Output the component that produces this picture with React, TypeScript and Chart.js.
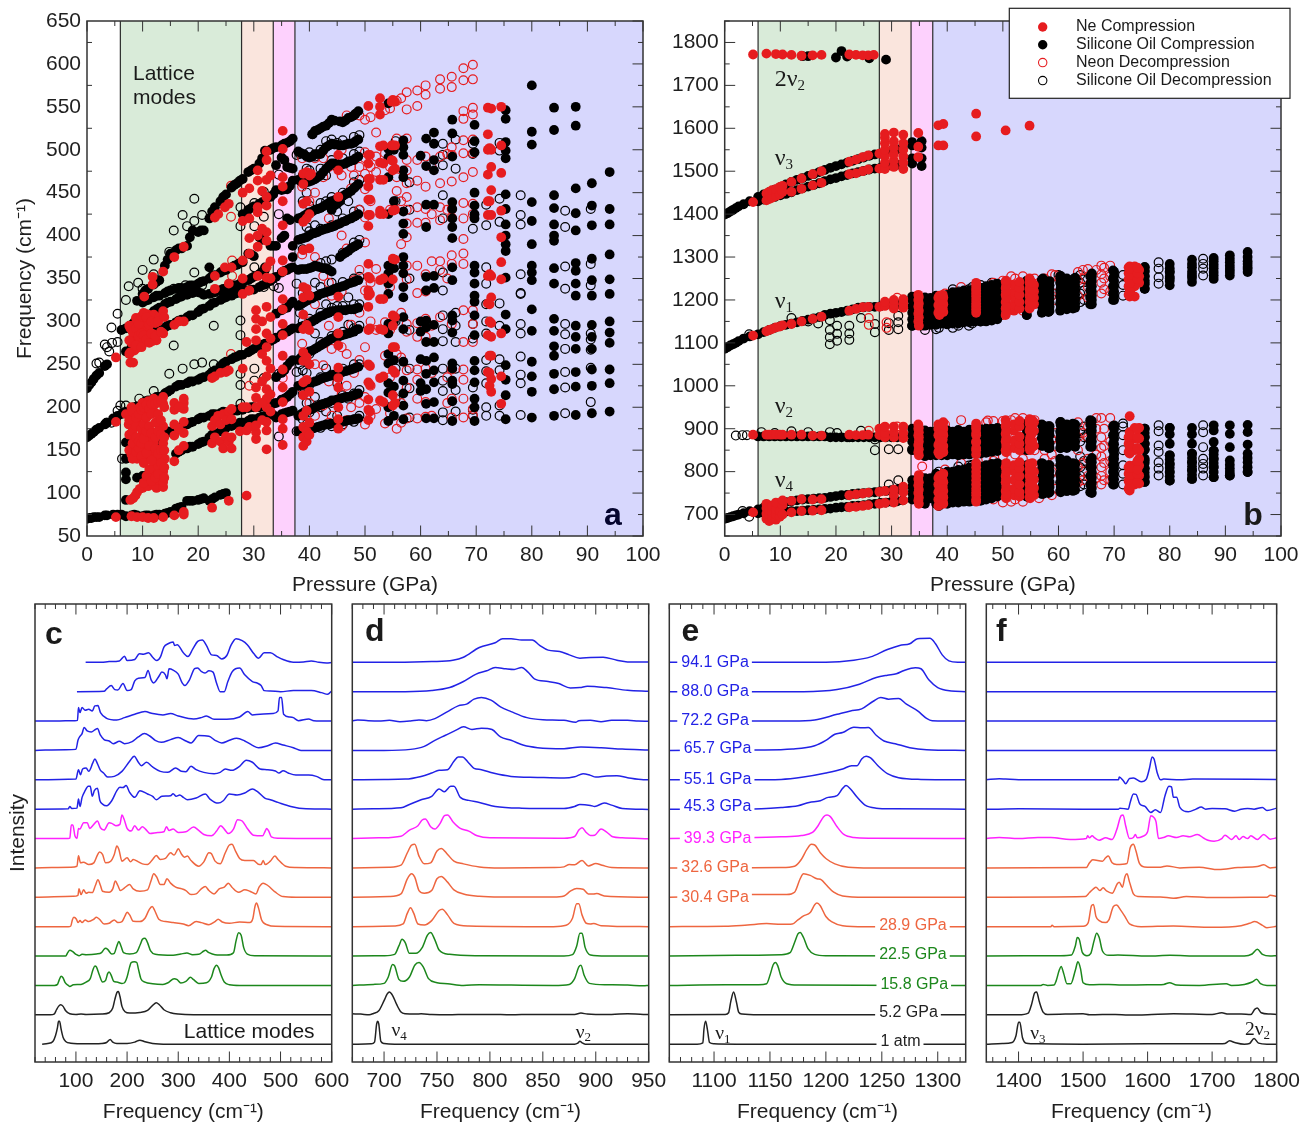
import React, { useEffect, useRef } from "react";
import { Chart, registerables } from "chart.js";

Chart.register(...registerables);

// ---------- Panel a : columns are [pressure, frequency, frequency, ...] ----------
const neCompA: number[][] = [
  [5.2, 72, 183, 258], [7, 192], [7.5, 180], [7.8, 92, 252, 264, 292], [8, 73, 145, 185, 200, 275], [8.3, 94, 252, 282], [8.5, 150, 160, 190, 266, 296],
  [8.7, 97, 276], [9, 72, 101, 140, 155, 183, 195, 269, 286, 300], [9.5, 105, 145, 165, 200, 280, 290, 303], [10, 72, 106, 150, 170, 190, 205, 275], [10.3, 329, 300],
  [10.5, 140, 160, 193, 296], [11, 71, 108, 118, 150, 165, 207, 290, 308], [11.5, 145, 155, 200, 283], [11.8, 120, 277, 343, 352], [12, 71, 110, 125, 150, 160, 170, 195, 210, 280, 285, 308],
  [12.5, 106, 130, 140, 278], [13, 115, 175, 305], [13.7, 72, 107, 113, 125, 158, 178, 204, 212, 286, 312, 358], [14, 140],
  [15.7, 74, 137, 167, 180, 197, 205, 296, 375], [17.4, 75, 78, 155, 170, 183, 198, 205, 210, 300, 387],
  [22.5, 83, 158, 178, 234], [23, 165, 185, 236, 338, 353, 421], [23.6, 190, 425], [24, 160, 180, 240], [24.5, 152, 192], [24.8, 363, 433], [25, 166, 185, 241],
  [25.5, 91, 160, 195, 243, 344, 437], [26, 152, 165, 186, 198, 363], [27.5, 172], [28, 200, 245, 332, 350, 371, 417, 450],
  [28.7, 97, 173, 200, 276], [29.2, 177, 336, 379, 397, 420, 455], [30.4, 163, 171, 179, 200, 211, 223, 278, 291, 303, 313], [30.7, 353, 387, 400, 427, 433, 464, 476],
  [32.3, 151, 173, 183, 200, 210, 221, 236, 254, 270, 286, 317, 351, 363, 394, 404, 435, 445, 465, 488, 498],
  [35.2, 156, 175, 186, 206, 223, 244, 260, 284, 297, 314, 326, 358, 371, 412, 440, 457, 468, 501, 522],
  [38.9, 155, 165, 177, 190, 214, 229, 254, 264, 291, 308, 328, 340, 383, 416, 437, 460, 472], [39.5, 160, 172, 196, 232, 258, 296, 338, 420, 440, 474], [40.3, 472],
  [45.2, 175, 186, 200, 223, 234, 246, 272, 286, 305, 329, 445, 476, 494],
  [50.6, 185, 197, 209, 229, 250, 290, 317, 330, 336, 352, 367, 411, 424, 442, 457, 466, 484, 494, 551],
  [52.7, 208, 234, 291, 326, 348, 425, 429, 465, 485, 504, 541, 550, 560],
  [54.8, 488, 505, 556], [55, 202, 214, 243, 270, 295, 307, 349, 373, 429, 476, 487, 505, 558],
  [72.1, 241, 284, 321, 353, 424, 440, 471, 500, 518, 549], [72.7, 218, 233, 260, 282, 298, 328, 353, 424, 453, 480, 500, 548], [74.5, 204, 236, 286, 349, 369, 398, 429, 473, 505, 550],
];
const neCompAExtra: number[][] = [
  [7.6, 150, 168, 185, 262, 278, 295], [8.2, 140, 158, 172, 195, 288], [8.8, 148, 165, 178, 188, 272, 292, 304], [9.3, 152, 160, 192, 283, 297], [9.8, 143, 158, 175, 197, 270, 286, 306],
  [10.2, 112, 135, 163, 180, 200, 284, 310], [10.7, 120, 147, 172, 188, 203, 279, 305], [11.2, 128, 155, 178, 198, 275, 296], [11.6, 114, 138, 170, 192, 204, 286, 300], [12.3, 118, 152, 165, 182, 204, 283, 298],
  [12.8, 122, 146, 172, 192, 206, 300], [13.3, 135, 150, 168, 185, 208, 288], [13.9, 118, 130, 150, 165, 200, 305], [16.5, 150, 175, 200, 300],
  [31.5, 185, 205, 230, 262, 300, 408, 452], [33, 195, 215, 245, 280, 305, 350, 370, 470], [40, 168, 182, 218, 250, 290, 330, 385, 425, 470],
  [50.9, 195, 226, 248, 292, 332, 350, 424, 442, 466, 494], [53.3, 206, 236, 290, 326, 350, 425, 465, 484, 505], [55.4, 205, 240, 270, 305, 372, 430, 478, 505, 556], [72.4, 225, 240, 260, 300, 320, 355, 440, 502],
];
const siliconeCompA: number[][] = [
  [0, 70, 165, 222], [0.4, 71, 167, 226], [0.8, 71, 169, 229], [1.2, 72, 171, 233], [1.7, 72, 174, 237], [2.2, 72, 176, 240], [3.2, 74, 180, 248], [3.6, 74, 182, 250],
  [4.7, 75, 187], [5.5, 75, 190], [6.2, 75, 192, 290],
  [7, 73, 92, 116, 124, 140, 159, 195, 265, 292], [8, 74, 143, 161, 198, 270, 296], [9, 74, 118, 145, 162, 201, 274, 300, 324], [10, 73, 120, 147, 164, 205, 278, 304, 322, 332],
  [11, 74, 122, 165, 208, 283, 308, 325, 338], [12, 74, 123, 167, 210, 287, 312, 328, 343], [13, 75, 133, 168, 212, 290, 316, 330, 348], [14, 76, 170, 216, 293, 320, 333, 365],
  [15, 78, 171, 220, 296, 323, 336, 379], [16, 82, 146, 174, 224, 299, 326, 338, 383], [17, 84, 150, 177, 226, 302, 329, 339, 385], [18, 91, 152, 180, 228, 305, 331, 340, 388],
  [19, 91, 154, 183, 230, 307, 333, 342, 406], [20, 92, 157, 186, 232, 311, 334, 344, 404], [21, 94, 160, 188, 235, 315, 331, 347, 406], [22, 91, 165, 190, 238, 318, 332, 350, 420, 363],
  [23, 95, 169, 192, 243, 322, 334, 354, 433], [24, 98, 172, 193, 248, 325, 336, 357, 440], [25, 100, 176, 194, 253, 328, 338, 360, 448], [26, 178, 195, 256, 330, 340, 363, 456],
  [27, 180, 196, 259, 333, 342, 366, 461], [28, 182, 197, 261, 335, 345, 369, 425, 466], [29, 184, 199, 264, 336, 348, 379, 430, 474], [30, 186, 200, 268, 337, 352, 376, 434, 478],
  [31, 188, 200, 271, 340, 355, 398, 437, 484], [32, 190, 201, 274, 343, 360, 363, 440, 499], [33, 192, 203, 277, 347, 388, 445, 500], [34, 188, 205, 235, 281, 309, 352, 388, 453, 503, 482],
  [35, 192, 209, 240, 285, 313, 357, 397, 453, 491, 505], [36, 194, 212, 248, 288, 316, 360, 420, 454, 480, 508], [37, 196, 218, 255, 292, 323, 363, 375, 388, 464, 513, 478],
  [38, 172, 190, 225, 255, 292, 318, 360, 395, 420, 465, 498], [39, 173, 194, 226, 260, 295, 322, 361, 397, 423, 462, 495], [40, 175, 197, 228, 265, 298, 326, 362, 400, 427, 463, 491],
  [40.6, 518], [41, 176, 200, 230, 268, 302, 329, 365, 403, 430, 466, 495, 522], [42, 178, 203, 233, 272, 306, 332, 363, 406, 432, 470, 495, 525], [43, 180, 205, 235, 276, 309, 334, 362, 408, 436, 478, 503, 528],
  [44, 181, 208, 237, 280, 312, 336, 358, 410, 430, 440, 484, 507, 535], [45, 182, 209, 239, 282, 313, 339, 413, 437, 443, 483, 506], [46, 183, 211, 241, 284, 313, 341, 378, 416, 446, 483, 505, 532],
  [47, 185, 212, 243, 286, 314, 344, 382, 419, 450, 486, 507, 537], [48, 186, 214, 245, 288, 314, 346, 387, 422, 455, 488, 508, 540], [48.8, 187, 216, 247, 291, 316, 348, 390, 425, 460, 492, 512, 545],
  [54.2, 184, 200, 217, 228, 251, 262, 286, 297, 332, 344, 356, 365, 425, 468, 491, 501, 554], [55.2, 190, 224, 255, 300, 362, 440, 500],
  [56.9, 186, 202, 216, 231, 253, 291, 305, 328, 340, 356, 365, 375, 402, 414, 428, 468, 476, 494, 503, 511],
  [60, 219, 228, 256, 288, 300, 493], [61, 187, 204, 221, 239, 254, 276, 293, 301, 336, 352, 410, 436, 481, 513], [62.4, 187, 206, 229, 243, 258, 276, 296, 339, 353, 436, 476, 488, 507, 520],
  [65.7, 184, 207, 227, 231, 245, 251, 287, 301, 307, 348, 363, 397, 410, 420, 431, 439, 492, 519, 535], [69.7, 184, 200, 210, 229, 243, 254, 284, 307, 323, 330, 344, 357, 365, 420, 425, 435, 450, 497, 510, 529],
  [75.3, 186, 214, 232, 249, 291, 308, 351, 382, 390, 400, 413, 431, 448, 490, 499, 509, 536, 546],
  [80, 188, 218, 236, 253, 289, 314, 348, 357, 365, 390, 417, 439, 506, 521, 575],
  [84, 190, 221, 239, 260, 271, 289, 303, 344, 362, 394, 400, 413, 432, 447, 523, 549], [87.9, 191, 224, 241, 268, 282, 295, 330, 344, 359, 368, 406, 426, 455, 528, 550],
  [90.8, 193, 225, 244, 268, 282, 296, 330, 348, 373, 412, 435, 461], [94, 195, 228, 244, 275, 287, 300, 332, 349, 378, 413, 431, 474],
];
const siliconeCompAExtra: number[][] = [
  [8.5, 75, 163, 200, 273, 299], [10.5, 74, 149, 166, 207, 281, 306, 324, 336], [12.5, 75, 158, 168, 212, 289, 314, 330, 346], [14.5, 77, 172, 218, 295, 322, 335, 372], [16.5, 83, 148, 176, 226, 301, 328, 339, 385],
  [18.5, 91, 154, 182, 230, 307, 333, 342, 398], [20.5, 93, 159, 188, 234, 314, 333, 346, 406], [22.5, 93, 168, 192, 241, 321, 333, 353, 428], [24.5, 99, 175, 195, 251, 327, 338, 359, 445], [26.5, 180, 197, 258, 332, 342, 365, 459],
  [27.5, 182, 198, 261, 334, 344, 368, 464], [29.5, 186, 200, 266, 337, 350, 378, 432, 476], [31.5, 189, 201, 273, 342, 358, 395, 439, 490], [33.5, 191, 204, 279, 350, 388, 448, 502], [35.5, 193, 210, 243, 287, 315, 359, 400, 454, 488, 507], [36.5, 195, 215, 252, 290, 320, 362, 418, 458, 479, 510],
  [38.5, 172, 192, 226, 258, 294, 320, 361, 396, 421, 463, 496], [39.5, 174, 195, 227, 262, 296, 324, 361, 398, 425, 462, 492], [40.5, 175, 198, 229, 266, 300, 327, 363, 402, 428, 464, 492, 518], [41.5, 177, 201, 231, 270, 304, 330, 364, 404, 431, 468, 495, 523],
  [42.5, 179, 204, 234, 274, 307, 333, 362, 407, 434, 474, 499, 527], [43.5, 180, 206, 236, 278, 310, 335, 360, 409, 438, 481, 505, 531], [44.5, 181, 208, 238, 281, 312, 338, 411, 435, 441, 484, 506, 534], [45.5, 183, 210, 240, 283, 313, 340, 375, 414, 440, 445, 483, 505, 533],
  [46.5, 184, 212, 242, 285, 313, 342, 380, 417, 448, 484, 506, 534], [47.5, 185, 213, 244, 287, 314, 345, 385, 420, 452, 487, 507, 538], [48.3, 186, 215, 246, 290, 315, 347, 388, 423, 457, 490, 510, 542],
];
const neDecompA: number[][] = [
  [25.9, 262, 422, 458], [26.1, 353, 371], [29.2, 225], [35.2, 234], [38.7, 222, 274, 378, 457, 490], [42.5, 202, 249, 274, 353, 468, 490],
  [40, 205, 300, 440], [44, 190, 268, 330], [46.7, 185, 225, 262, 385, 540], [47.5, 200, 296, 455, 480], [48, 240, 348, 470], [50, 180, 212, 270, 336, 392, 421, 454, 472, 490, 497, 535],
  [52, 198, 290, 361, 474, 492, 520], [53.6, 181, 260, 299, 496, 546], [55.7, 175, 262, 452, 468, 513, 557],
  [57.5, 187, 223, 243, 288, 297, 349, 365, 398, 414, 430, 445, 461, 476, 488, 513, 547, 567],
  [59.4, 187, 210, 232, 244, 282, 298, 333, 365, 415, 433, 464, 488, 551, 569], [60.9, 189, 206, 245, 282, 303, 335, 355, 415, 431, 457, 492, 564, 575],
  [63.5, 305, 360, 370, 418, 433, 461, 492, 571, 582], [65.6, 188, 210, 244, 297, 367, 377, 421, 431, 463, 494, 503, 573, 585],
  [67.7, 188, 210, 232, 244, 276, 313, 367, 379, 396, 420, 438, 468, 496, 511, 536, 545, 581, 595],
  [69.4, 191, 198, 276, 297, 313, 425, 437, 474, 496, 512, 541, 549, 582, 599],
  [41, 190, 250, 320, 375, 450, 490], [43.5, 182, 230, 295, 345, 420, 480], [45.8, 178, 215, 270, 335, 400, 470, 500], [49, 205, 255, 310, 360, 430, 480, 540], [51, 190, 225, 300, 345, 440, 480, 538],
  [54.5, 193, 235, 290, 340, 430, 480, 548], [56.5, 182, 205, 258, 310, 390, 440, 505, 560], [62, 190, 240, 295, 370, 425, 480], [64.8, 205, 235, 350, 430, 495],
];
const siliconeDecompA: number[][] = [
  [1.7, 251], [2.2, 252], [3.2, 273], [3.5, 182], [3.6, 270], [4, 265], [4.4, 182, 293], [4.5, 275], [5.5, 196, 276, 309], [6, 202], [6.3, 140], [7, 202, 325], [7.5, 341], [9.2, 345], [9.4, 210],
  [10, 338, 360], [12, 219, 355, 372], [14.8, 239, 381], [15.6, 272, 338, 406], [17.2, 245, 424], [17.7, 342], [18, 411], [19.3, 250, 357, 417, 443], [20.7, 252, 342, 424], [22.8, 250, 295, 429],
  [27.6, 204, 226, 239, 284, 301, 411, 433], [30.1, 245, 231, 363, 411, 438], [31.8, 234, 340, 422, 451], [33.6, 341], [34.5, 166, 239, 339, 425, 471], [37.7, 172, 241, 344, 494],
  [38.3, 495, 250, 310], [39.5, 180, 205, 240, 330, 410, 450, 478], [41, 212, 286, 345, 412, 466, 492], [43, 195, 245, 320, 370, 440, 470, 510], [45, 190, 228, 285, 318, 428, 480, 508], [47, 210, 296, 328, 440, 486],
  [38.8, 186, 215, 243, 300, 333, 384, 440, 470], [40, 194, 226, 262, 303, 330, 405, 435, 476, 497], [42, 176, 200, 235, 276, 310, 340, 368, 408, 438, 478, 500], [44, 178, 205, 238, 283, 316, 345, 372, 412, 445, 488, 512],
  [46, 180, 214, 245, 288, 318, 346, 380, 420, 450, 490, 511], [48, 183, 216, 250, 292, 320, 350, 392, 428, 462, 495, 515], [49, 190, 220, 250, 295, 320, 352, 395, 430, 465, 498, 517], [55.5, 210, 245, 300, 365, 440, 510], [58, 188, 222, 245, 290, 350, 430, 462],
  [64, 185, 194, 219, 231, 245, 277, 291, 307, 336, 357, 420, 447, 482, 494, 507], [66.3, 195, 220, 245, 276, 295, 310, 478, 512], [69.4, 190, 197, 223, 280, 297, 408, 495, 507],
  [71.8, 190, 200, 228, 242, 255, 286, 300, 320, 344, 363, 412, 436], [74.2, 190, 202, 243, 256, 295, 321, 416, 443, 499, 508], [78, 191, 228, 238, 259, 286, 297, 332, 333, 355, 413, 424, 447],
  [86, 193, 223, 241, 268, 285, 297, 338, 364, 410, 429], [90.6, 206, 246, 267, 279, 286, 342, 367, 431],
];

// ---------- Panel b ----------
const neCompB: number[][] = [
  [5.1, 705, 886, 1117, 1428, 1772], [7.5, 690, 702, 715, 725, 886, 1127, 1432, 1448, 1774], [8, 685, 700, 710, 886, 1130, 1435, 1452], [8.5, 692, 705, 720, 886, 1132, 1438, 1456],
  [9.2, 688, 700, 712, 728, 886, 1136, 1442, 1458, 1773], [9.9, 695, 708, 886, 1138, 1446, 1463], [10.4, 700, 722, 733, 886, 1141, 1452, 1466, 1772], [12, 705, 732, 886, 1144, 1452, 1475, 1771],
  [13.8, 708, 736, 886, 1150, 1459, 1483, 1769], [15.8, 709, 735, 884, 1156, 1467, 1493, 1770], [17.4, 710, 736, 884, 1161, 1473, 1500, 1771],
  [22.4, 717, 745, 886, 1175, 1493, 1522, 1772], [23.6, 718, 747, 885, 1179, 1495, 1527, 1771], [24.8, 720, 749, 885, 1183, 1500, 1533, 1770], [25.8, 722, 751, 886, 1184, 1504, 1537, 1770], [26.8, 1771],
  [27.8, 725, 753, 885, 900, 1184, 1506, 1541], [28.8, 727, 755, 880, 890, 905, 1186, 1196, 1505, 1520, 1535, 1550, 1565, 1578, 1587], [30.4, 728, 745, 758, 880, 892, 905, 1180, 1190, 1200, 1510, 1525, 1540, 1555, 1570, 1590],
  [32.1, 733, 752, 765, 878, 890, 905, 1182, 1192, 1202, 1505, 1520, 1535, 1550, 1565, 1585],
  [34.8, 733, 750, 768, 783, 845, 862, 885, 900, 910, 1150, 1168, 1185, 1200, 1212, 1533, 1557, 1589],
  [38.4, 720, 735, 752, 770, 785, 845, 862, 885, 900, 910, 1170, 1188, 1205, 1560, 1607], [39.3, 725, 740, 755, 775, 795, 845, 860, 885, 900, 915, 1172, 1190, 1206, 1560, 1610],
  [45.2, 730, 745, 760, 780, 800, 820, 850, 870, 890, 905, 1170, 1185, 1200, 1215, 1228, 1240, 1581, 1634],
  [50.5, 740, 755, 775, 790, 810, 850, 870, 888, 905, 920, 1165, 1180, 1195, 1212, 1228, 1243, 1595], [52, 745, 760, 780, 800, 815, 855, 872, 895, 910, 1175, 1190, 1205, 1220, 1235],
  [54.8, 740, 755, 770, 790, 805, 818, 855, 872, 895, 912, 922, 1180, 1195, 1210, 1225, 1240, 1250, 1606], [55.6, 745, 762, 782, 800, 860, 895, 915, 1190, 1205, 1220, 1235],
  [72.8, 756, 770, 787, 800, 814, 842, 856, 873, 892, 929, 1208, 1225, 1240, 1255, 1270, 1278], [73.7, 770, 790, 815, 850, 877, 902, 1208, 1232, 1245, 1262, 1278], [74.5, 772, 791, 814, 830, 850, 877, 902, 1240, 1255, 1270],
];
const neCompBExtra: number[][] = [
  [34.9, 725, 740, 758, 775, 792, 838, 852, 870, 880, 892, 902, 1140, 1160, 1175, 1192, 1207], [38.6, 725, 738, 748, 760, 770, 782, 790, 840, 852, 868, 880, 892, 905, 1165, 1180, 1195, 1210],
  [39.2, 730, 745, 765, 780, 792, 848, 855, 875, 892, 908, 1180, 1198, 1212], [45.2, 735, 752, 770, 790, 810, 840, 855, 868, 885, 900, 912, 1178, 1192, 1208, 1222, 1235],
  [50.6, 738, 748, 765, 782, 800, 820, 845, 860, 878, 895, 912, 1170, 1185, 1205, 1220, 1235, 1245], [53, 742, 752, 770, 790, 808, 822, 850, 865, 882, 905, 918, 1180, 1195, 1212, 1228, 1242],
  [54.9, 738, 748, 762, 780, 798, 810, 850, 865, 880, 900, 918, 1185, 1200, 1218, 1232, 1246], [55.3, 745, 758, 775, 790, 805, 820, 858, 870, 890, 905, 920, 1190, 1208, 1224, 1240],
  [72.6, 760, 778, 795, 810, 846, 865, 880, 1212, 1232, 1248, 1262, 1276], [72.9, 765, 782, 792, 808, 850, 860, 885, 1220, 1240, 1258, 1272], [74.2, 775, 795, 805, 825, 855, 880, 900, 1248, 1262, 1275],
];
const siliconeCompB: number[][] = [
  [0, 690, 1086, 1399], [0.5, 692, 1090, 1402], [1, 694, 1094, 1406], [1.5, 696, 1097, 1410], [2, 698, 1100, 1414], [2.5, 700, 1104, 1418], [3.4, 703, 1110, 1423], [4.5, 708, 1115, 1430],
  [6, 703, 712, 882, 1120, 1430, 1440], [7, 704, 716, 882, 1125, 1434, 1446], [8, 705, 720, 882, 1130, 1437, 1451], [9, 706, 723, 882, 1135, 1440, 1457], [10, 707, 726, 882, 1139, 1444, 1463], [11, 707, 729, 882, 1142, 1447, 1469],
  [12, 708, 731, 882, 1145, 1451, 1475], [13, 708, 733, 882, 1148, 1456, 1480], [14, 709, 735, 882, 1151, 1460, 1484, 1768], [15, 710, 736, 882, 1154, 1464, 1489, 1768], [16, 711, 737, 882, 1157, 1468, 1493], [17, 712, 738, 882, 1160, 1472, 1498],
  [18, 713, 739, 882, 1165, 1477, 1503], [19, 714, 741, 880, 1168, 1481, 1508], [20, 716, 743, 880, 1170, 1484, 1512, 1765], [21, 717, 745, 880, 1172, 1488, 1516, 1780], [22, 718, 746, 880, 1175, 1491, 1520, 1767], [23, 720, 748, 880, 1178, 1495, 1524],
  [24, 721, 749, 880, 1182, 1498, 1528], [25, 722, 750, 880, 1183, 1501, 1532], [26, 724, 751, 880, 1184, 1504, 1536, 1763], [27, 725, 752, 880, 1184, 1506, 1539], [28, 727, 754, 880, 1185, 1508, 1541], [29, 728, 755, 880, 1188, 1511, 1545, 1760], [30, 730, 757, 880, 1190, 1513, 1548],
  [31, 731, 758, 880, 1190, 1515, 1551], [32, 733, 760, 880, 1191, 1518, 1555], [33.7, 735, 750, 765, 780, 850, 870, 885, 900, 1140, 1155, 1170, 1185, 1200, 1208, 1518, 1530, 1560, 1568],
  [35.4, 735, 750, 765, 785, 840, 855, 878, 895, 1140, 1155, 1170, 1185, 1200, 1512, 1530, 1555, 1570], [37, 738, 752, 770, 785, 838, 855, 875, 893, 1142, 1160, 1175, 1190, 1205],
  [39, 735, 750, 770, 790, 838, 858, 878, 895, 1145, 1160, 1175, 1190, 1205], [41, 728, 745, 765, 785, 800, 840, 858, 875, 893, 1145, 1160, 1175, 1190, 1205, 1218], [43, 730, 748, 768, 788, 805, 840, 858, 875, 893, 1148, 1162, 1178, 1192, 1208, 1222],
  [45, 732, 750, 770, 790, 808, 842, 858, 878, 895, 1150, 1165, 1180, 1195, 1210, 1225], [46.5, 735, 752, 772, 792, 810, 845, 860, 878, 897, 1152, 1168, 1182, 1198, 1212, 1228], [47.5, 742, 758, 775, 795, 811, 848, 862, 880, 897, 1155, 1170, 1185, 1200, 1215, 1230],
  [48.7, 745, 760, 780, 798, 812, 850, 865, 882, 898, 1158, 1172, 1188, 1202, 1216, 1232], [54.3, 742, 755, 770, 790, 805, 815, 850, 865, 885, 900, 912, 1165, 1180, 1195, 1212, 1228, 1242],
  [57, 748, 760, 785, 805, 820, 860, 878, 890, 910, 1170, 1186, 1200, 1216, 1232, 1247], [58.2, 750, 770, 795, 815, 855, 875, 895, 906, 1172, 1188, 1204, 1220, 1235],
  [60.3, 755, 775, 795, 815, 830, 855, 875, 893, 915, 1175, 1192, 1208, 1222, 1240, 1255], [61.5, 755, 775, 800, 820, 860, 880, 895, 910, 1178, 1195, 1210, 1228, 1245], [62.6, 755, 775, 795, 820, 860, 880, 893, 912, 1180, 1198, 1214, 1232, 1248],
  [65.7, 752, 770, 790, 810, 825, 858, 872, 895, 910, 920, 1190, 1205, 1222, 1238, 1255], [69.8, 770, 785, 800, 815, 830, 850, 865, 885, 905, 1200, 1215, 1232, 1250, 1269], [75.5, 776, 790, 807, 826, 851, 865, 881, 900, 1226, 1240, 1255, 1268, 1277],
  [80, 779, 799, 818, 838, 865, 887, 902, 1234, 1250, 1267, 1284], [84, 783, 803, 822, 842, 865, 887, 902, 1242, 1258, 1276, 1294], [87.9, 787, 811, 830, 849, 869, 896, 908, 1249, 1265, 1282, 1298],
  [90.8, 791, 807, 826, 857, 888, 908, 1257, 1272, 1288, 1304], [94, 799, 822, 842, 863, 892, 909, 1265, 1277, 1290, 1312],
];
const siliconeCompBExtra: number[][] = [
  [36, 725, 735, 748, 760, 772, 785, 836, 846, 856, 866, 876, 886, 896, 1140, 1148, 1158, 1168, 1178, 1188, 1198, 1206],
  [38, 725, 735, 745, 755, 765, 775, 785, 795, 838, 848, 858, 868, 878, 888, 895, 1142, 1150, 1160, 1170, 1180, 1190, 1200, 1210],
  [40, 725, 735, 745, 755, 767, 778, 790, 800, 838, 848, 858, 868, 878, 888, 896, 1143, 1152, 1162, 1172, 1182, 1192, 1202, 1212],
  [42, 728, 738, 748, 758, 770, 782, 794, 804, 838, 848, 858, 868, 878, 888, 897, 1145, 1155, 1165, 1175, 1185, 1195, 1205, 1218],
  [44, 730, 740, 750, 762, 774, 786, 798, 810, 840, 850, 860, 870, 880, 890, 898, 1148, 1158, 1168, 1178, 1188, 1198, 1210, 1222],
  [46, 732, 742, 752, 765, 777, 790, 802, 812, 842, 852, 862, 872, 882, 892, 899, 1150, 1160, 1170, 1180, 1192, 1204, 1216, 1228],
  [47, 735, 745, 756, 768, 780, 792, 804, 815, 844, 854, 864, 874, 884, 894, 900, 1150, 1162, 1172, 1184, 1196, 1208, 1220, 1232],
  [48, 738, 748, 760, 772, 784, 796, 808, 818, 846, 856, 866, 876, 886, 895, 900, 1152, 1164, 1175, 1187, 1199, 1211, 1223, 1235],
  [49, 742, 752, 764, 776, 788, 800, 810, 820, 848, 858, 868, 878, 888, 896, 902, 1155, 1166, 1178, 1190, 1202, 1214, 1226, 1238],
  [54.3, 742, 752, 762, 772, 782, 792, 802, 812, 856, 866, 880, 890, 900, 910, 1165, 1175, 1185, 1195, 1205, 1215, 1225, 1235, 1245],
  [57.2, 748, 758, 770, 782, 794, 806, 818, 860, 872, 886, 897, 908, 1172, 1182, 1192, 1202, 1212, 1222, 1232, 1242, 1250],
  [58.4, 752, 764, 776, 790, 802, 815, 855, 866, 885, 896, 906, 1174, 1184, 1194, 1204, 1214, 1224, 1234, 1244],
  [60.4, 752, 764, 776, 788, 800, 812, 824, 855, 866, 885, 896, 908, 916, 1178, 1188, 1198, 1208, 1218, 1228, 1238, 1248, 1256],
  [61.5, 755, 767, 779, 791, 803, 815, 826, 855, 866, 885, 895, 908, 1180, 1190, 1200, 1210, 1220, 1230, 1240, 1250],
  [63, 757, 769, 781, 793, 805, 817, 858, 870, 885, 895, 910, 1182, 1192, 1202, 1212, 1222, 1232, 1242, 1252],
  [66, 750, 762, 774, 786, 798, 810, 822, 832, 858, 870, 882, 895, 905, 918, 1190, 1200, 1210, 1220, 1232, 1244, 1254, 1262],
  [70, 770, 782, 794, 806, 818, 830, 840, 852, 864, 876, 888, 900, 908, 1200, 1210, 1220, 1232, 1244, 1256, 1266],
  [75.5, 776, 786, 798, 808, 820, 830, 852, 865, 880, 890, 900, 1226, 1236, 1246, 1256, 1266, 1276],
  [80, 779, 789, 799, 809, 818, 828, 838, 902, 1244, 1254, 1264, 1274], [84, 783, 793, 803, 812, 822, 832, 842, 1252, 1266, 1284], [87.9, 787, 799, 811, 820, 830, 840, 849, 1257, 1274, 1290], [90.8, 791, 799, 816, 1265, 1280, 1296], [94, 799, 810, 832, 1272, 1284, 1300],
];
const neDecompB: number[][] = [
  [25.9, 895, 1142, 1158], [29.1, 900, 1135, 1148], [31, 905, 1205], [35.5, 812], [39.6, 730, 805, 910, 1215], [42.5, 740, 820, 920, 1230],
  [47.3, 740, 760, 850, 919, 1170, 1225], [48.3, 735, 780, 825, 880, 918, 1180, 1240], [50, 728, 770, 790, 835, 870, 900, 918, 1165, 1195, 1245], [52.2, 735, 755, 810, 840, 880, 925, 1180, 1215, 1250], [53.6, 730, 775, 830, 860, 925, 1175, 1235, 1255],
  [55.7, 760, 805, 850, 885, 920, 1190, 1225, 1250], [57.5, 755, 790, 830, 850, 900, 1185, 1205, 1250], [59.4, 760, 780, 825, 860, 890, 1200, 1235, 1258], [63.5, 775, 810, 850, 880, 915, 1210, 1245, 1265],
  [65.3, 790, 830, 880, 905, 1205, 1230, 1272], [67.7, 770, 790, 810, 835, 855, 880, 925, 1215, 1240, 1260, 1280], [69.3, 780, 800, 825, 870, 925, 1220, 1255, 1280],
  [47, 745, 790, 830, 915, 1200], [51.5, 730, 765, 805, 880, 905, 920, 1225, 1255], [56.5, 738, 775, 815, 870, 1195, 1240], [58.8, 745, 800, 840, 875, 1210, 1260], [61, 760, 810, 885, 1225], [64.4, 780, 820, 890, 1250, 1270], [66.8, 785, 840, 900, 925, 1270], [68.2, 780, 820, 860, 900, 1225, 1250, 1275],
];
const siliconeDecompB: number[][] = [
  [2, 884], [3.2, 708, 885], [4, 885], [4.4, 695, 1120], [6.6, 892], [9, 890, 715], [12, 894, 1158], [15, 892, 1150], [16.8, 1145], [18.9, 892, 1097, 1113, 1130, 1153], [20.2, 890, 1105, 1121, 1140], [22.4, 880, 1107, 1122, 1140], [24.5, 895, 1158],
  [27, 850, 875, 1125, 1144], [29.5, 770, 852, 1130, 1146], [31.2, 780, 852, 1132, 1148, 1163], [33.7, 852, 1140], [36, 1130], [38, 880, 1132], [41, 1135, 1225], [43.9, 745, 800, 814, 1140, 1225], [45.5, 745, 1225], [58, 800, 900], [60, 1258],
  [38.5, 720, 800, 1135, 1150], [42, 735, 780, 812, 1140, 1220], [44.5, 740, 790, 816, 1145, 1230], [46, 745, 800, 1150, 1235], [48, 745, 810, 1155, 1240],
  [63.9, 766, 790, 810, 835, 870, 895, 1195, 1215, 1240, 1258], [64.6, 770, 800, 825, 880, 905, 1200, 1222, 1248], [71.6, 770, 795, 815, 850, 885, 905, 912, 1210, 1235, 1258], [78, 791, 807, 822, 846, 861, 894, 908, 1238, 1253, 1273, 1288], [86, 791, 807, 818, 830, 857, 892, 908, 1257, 1273, 1284, 1296],
];

// ---------- Spectra : each list is x, height, x, height, ... (height above that trace's baseline) ----------
const spectraC: number[][] = [
  [34,0,45,2,55,8,60,25,64,50,66,68,68,68,71,45,75,20,80,8,90,3,120,1,150,2,160,5,167,14,172,6,180,2,200,2,215,6,225,12,235,7,250,2,280,0,600,0],
  [20,0,50,0,58,3,62,15,66,25,70,30,75,25,80,12,88,3,100,1,110,2,120,1,150,2,165,6,172,20,176,45,180,66,183,69,186,55,190,25,196,9,205,5,225,7,240,13,250,28,257,36,263,30,272,15,285,6,300,2,330,0,600,0],
  [20,0,58,0,64,3,67,15,71,27,75,22,79,8,85,0,88,-3,95,2,110,3,120,10,128,20,133,45,137,58,140,55,146,30,152,10,158,15,162,35,165,40,169,30,174,12,180,10,190,6,195,8,200,25,205,55,208,68,214,70,219,68,222,50,227,20,235,10,250,5,270,3,280,8,292,20,298,17,305,7,315,12,324,24,330,17,340,6,355,8,365,25,370,50,375,60,379,52,384,30,390,10,400,2,420,0,600,0],
  [20,0,80,0,84,10,88,17,93,14,100,5,106,1,112,5,120,4,140,6,150,10,155,20,158,23,162,20,170,6,175,8,180,30,184,43,188,30,193,10,205,6,218,10,226,35,230,50,235,53,240,40,246,15,255,5,290,2,305,6,317,9,328,4,340,5,350,15,353,17,360,10,372,4,395,3,408,10,413,45,418,69,423,62,428,25,435,6,450,1,600,0],
  [20,0,85,0,90,2,93,20,96,28,101,22,104,12,108,18,112,12,118,20,125,15,135,22,140,28,146,22,155,8,165,10,175,20,182,12,190,15,196,32,200,43,205,35,212,16,225,15,235,25,243,50,249,60,254,48,262,22,275,15,290,12,310,8,320,3,335,15,345,12,360,6,372,15,378,22,386,14,400,10,420,14,440,12,446,25,450,60,453,70,457,55,463,20,475,5,490,1,600,0],
  [20,0,95,3,104,6,106,25,110,8,115,22,120,12,125,15,132,14,138,35,143,52,148,35,152,18,165,15,172,25,177,48,182,35,187,20,195,28,205,38,212,25,225,18,240,22,247,50,252,70,258,60,265,38,272,38,278,55,285,42,295,30,307,25,315,20,325,8,335,10,345,25,353,32,360,20,370,10,380,25,390,30,398,42,405,30,418,15,430,22,440,18,452,10,458,30,466,42,475,35,490,15,505,2,530,0,600,0],
  [20,0,90,2,102,5,105,36,109,15,115,17,125,10,135,15,142,38,146,47,152,40,158,15,168,20,175,40,180,65,184,55,190,20,200,30,207,18,212,25,222,18,230,12,240,10,250,25,257,37,265,25,275,28,285,45,292,38,297,50,300,57,306,42,312,32,318,35,325,22,340,5,350,18,360,45,365,42,372,20,382,12,392,45,400,68,405,70,412,50,420,28,430,22,440,22,447,22,458,10,462,10,466,22,470,10,480,20,489,35,495,25,510,5,530,1,600,0],
  [20,0,85,0,88,1,91,40,94,40,98,8,102,0,105,30,108,28,112,40,115,47,122,47,127,30,135,42,142,52,148,32,155,25,165,47,170,45,178,38,186,42,190,70,194,58,200,30,208,22,215,38,222,25,230,35,236,28,245,15,260,18,272,20,277,35,282,24,290,28,300,18,315,20,330,34,340,24,350,12,365,8,375,22,383,38,390,28,398,15,408,28,416,56,425,52,435,30,447,10,465,8,470,22,473,30,477,22,482,5,495,1,600,0],
  [20,0,85,1,88,8,92,2,102,3,105,30,108,8,112,35,118,55,124,68,128,68,132,38,136,55,142,62,147,25,152,15,160,10,170,25,180,55,186,65,192,64,198,70,205,50,215,35,225,55,240,45,250,38,257,28,268,38,285,40,290,46,296,38,303,42,310,35,318,28,335,33,353,45,362,30,378,18,388,25,400,45,415,42,430,48,445,60,455,52,470,32,480,28,495,20,520,8,550,1,600,0],
  [20,0,100,2,105,30,109,15,113,32,120,35,125,25,133,50,137,62,142,48,148,28,154,20,162,8,175,10,190,25,205,55,214,70,222,52,228,42,238,52,250,38,265,25,280,22,295,35,306,25,315,24,325,40,335,30,350,22,370,18,382,22,392,32,405,28,420,40,433,58,445,52,460,32,473,30,490,26,497,20,505,27,515,20,530,14,555,14,570,10,585,0,600,0],
  [20,0,80,2,100,3,104,30,108,42,112,50,116,68,122,58,130,55,138,62,142,65,148,45,155,32,165,28,173,20,185,27,195,20,210,26,222,40,234,50,245,42,255,30,267,24,285,32,300,38,315,28,325,22,340,44,360,42,372,30,385,22,400,30,414,36,430,28,445,15,457,8,475,14,490,22,505,16,525,8,540,0,600,0],
  [20,0,60,0,98,1,103,2,105,40,108,25,112,40,118,32,125,35,132,30,137,45,143,46,148,25,160,8,180,3,195,10,215,20,235,28,250,22,270,18,285,22,300,15,330,6,345,10,355,15,370,5,395,5,420,12,436,28,445,18,460,20,485,22,495,30,498,70,502,70,506,20,518,12,525,10,535,1,555,6,565,1,600,0],
  [102,0,155,1,160,8,169,18,176,6,182,5,192,24,200,3,208,6,215,32,222,40,235,42,241,63,247,35,252,26,262,45,268,58,275,50,278,38,282,68,290,64,300,52,308,25,313,18,322,35,332,68,338,70,345,60,352,55,360,62,368,58,375,25,382,0,390,0,397,30,405,58,412,68,420,70,430,50,445,30,455,25,462,18,468,3,480,2,500,0,525,3,560,3,580,-3,592,-8,600,2],
  [119,0,150,0,165,2,185,4,195,18,200,5,215,8,224,25,232,24,242,28,250,15,258,5,265,15,272,45,280,55,290,60,293,50,298,52,310,28,319,17,328,38,338,62,347,66,355,50,365,22,375,20,385,10,395,20,403,50,413,70,425,64,435,52,448,25,457,12,468,28,480,28,495,15,505,8,525,0,545,1,560,4,575,0,590,-2,600,-1],
];
const spectraD: number[][] = [
  [670,0,688,1,691,6,693,60,694,68,695,60,697,8,700,2,710,0,880,0,883,3,885,9,887,4,890,0,950,0],
  [670,3,678,2,686,0,690,4,695,12,700,42,703,62,705,68,708,58,712,30,716,8,720,3,730,2,735,3,745,1,760,0,780,1,800,1,820,0,840,1,860,1,880,1,886,5,892,2,900,1,915,1,930,3,945,1,950,1],
  [670,0,690,3,700,6,704,25,708,62,710,58,714,18,718,12,724,25,729,60,733,68,737,55,742,20,750,8,760,5,775,0,790,2,820,1,860,0,875,3,880,20,884,55,886,60,889,30,894,6,910,2,930,1,945,-1,950,0],
  [670,0,700,1,710,5,714,30,717,50,720,40,724,8,730,8,736,25,741,62,744,70,748,48,752,18,762,5,790,1,870,0,878,4,882,30,885,68,887,68,890,25,895,3,910,0,950,0],
  [670,0,710,2,718,8,722,40,725,56,728,40,732,8,738,5,745,18,752,48,755,52,760,35,766,10,780,2,860,0,872,4,878,25,882,68,884,68,887,35,891,10,895,8,898,9,905,3,950,0],
  [670,0,705,2,716,10,722,55,726,70,729,60,733,20,738,12,745,20,750,55,754,62,760,45,766,22,775,10,790,3,810,1,860,1,870,4,876,18,882,26,888,24,893,10,898,10,901,11,908,4,950,0],
  [670,0,705,2,716,8,722,45,726,68,729,70,733,35,738,12,744,15,750,50,754,58,760,40,766,20,775,12,790,3,810,0,860,1,870,3,875,10,880,9,887,22,893,6,900,13,906,8,915,1,950,0],
  [670,0,695,2,716,7,724,25,732,38,736,55,739,58,744,35,748,28,753,45,757,68,760,70,765,50,772,30,780,22,788,8,800,2,870,1,880,6,884,25,887,32,891,18,895,9,899,10,905,28,910,20,916,5,925,2,950,-1],
  [670,0,690,1,716,4,724,14,735,28,745,38,752,60,757,52,763,68,766,68,772,35,780,26,790,20,805,8,830,3,870,2,880,8,885,14,895,11,899,8,908,18,915,12,925,2,950,-1],
  [670,0,700,1,720,2,735,10,745,20,752,28,760,30,766,55,770,68,774,68,780,50,785,34,792,30,803,20,820,10,845,7,870,5,880,9,888,18,895,13,900,8,910,11,920,12,930,6,945,0,950,0],
  [670,0,700,0,725,3,738,12,748,30,758,45,768,60,775,70,783,62,792,66,802,62,810,40,820,30,832,15,845,8,870,5,886,10,905,8,925,4,950,1],
  [670,1,675,3,685,1,695,0,705,2,715,-2,725,0,733,3,740,1,748,7,760,28,770,45,778,50,785,65,792,70,801,62,810,42,820,28,835,10,850,4,870,2,881,-4,884,1,895,2,905,-2,915,2,930,2,940,0,950,-1],
  [670,0,720,0,745,3,762,12,775,30,787,52,797,62,805,72,815,68,823,66,830,72,836,58,842,38,855,30,865,24,876,11,885,12,892,16,910,12,930,4,950,1],
  [670,0,710,0,745,2,765,6,775,15,790,44,805,58,812,70,820,70,830,66,840,66,847,50,855,36,866,32,875,22,885,12,895,14,907,15,920,6,930,1,950,1],
];
const spectraE: number[][] = [
  [1060,0,1085,0,1090,4,1091,45,1092.5,68,1094,45,1096,5,1100,1,1120,0,1325,0],
  [1060,0,1110,1,1113,6,1115,40,1117.5,68,1120,38,1122,8,1125,2,1140,0,1325,0],
  [1060,0,1110,2,1140,2,1147,5,1150,30,1153,62,1155,68,1157,58,1160,25,1165,5,1175,1,1325,0],
  [1060,0,1120,2,1160,4,1168,10,1172,40,1175,66,1177,70,1180,55,1184,22,1190,5,1200,1,1325,0],
  [1060,0,1110,1,1130,5,1147,9,1160,7,1170,8,1175,20,1180,32,1186,42,1190,65,1192,70,1195,62,1200,30,1205,15,1215,3,1235,0,1325,0],
  [1060,0,1090,3,1110,6,1130,8,1165,8,1172,15,1177,55,1180,70,1186,65,1192,55,1196,52,1200,38,1207,15,1215,4,1235,0,1325,0],
  [1060,0,1110,0,1160,1,1172,5,1178,25,1183,55,1187,70,1190,68,1195,45,1200,28,1208,12,1220,2,1240,0,1325,0],
  [1060,0,1120,2,1160,5,1178,9,1188,18,1193,38,1198,65,1201,70,1204,65,1210,35,1216,12,1225,3,1240,1,1325,0],
  [1060,0,1130,0,1160,5,1175,10,1185,20,1195,25,1202,35,1210,40,1215,62,1218,70,1222,60,1228,35,1235,12,1245,3,1260,1,1325,0],
  [1060,0,1130,0,1160,1,1180,8,1200,20,1215,32,1223,42,1228,42,1232,62,1236,70,1240,65,1247,40,1255,18,1265,6,1285,1,1325,0],
  [1060,0,1140,1,1170,4,1190,14,1200,30,1208,48,1215,53,1225,69,1232,67,1238,68,1245,45,1252,28,1262,20,1275,8,1290,2,1325,0],
  [1060,0,1170,0,1190,3,1210,20,1222,30,1232,36,1242,58,1249,70,1256,65,1265,67,1272,50,1282,30,1290,8,1295,1,1325,0],
  [1060,0,1180,0,1210,6,1230,22,1245,42,1255,49,1263,53,1270,63,1280,71,1285,68,1292,35,1300,12,1312,2,1325,0],
  [1060,0,1200,0,1225,6,1240,16,1255,38,1266,50,1275,55,1282,70,1293,71,1298,55,1304,22,1310,4,1318,0,1325,0],
];
const spectraF: number[][] = [
  [1350,0,1375,2,1390,5,1396,25,1400,65,1402,65,1406,20,1412,3,1430,1,1500,0,1600,1,1700,1,1720,2,1727,10,1735,5,1750,0,1758,2,1765,17,1772,3,1785,0,1800,0],
  [1350,0,1400,0,1415,5,1420,30,1425,65,1428,68,1432,40,1438,8,1445,1,1500,3,1510,0,1550,1,1570,-1,1600,0,1640,3,1670,2,1700,1,1715,6,1725,2,1745,2,1760,1,1766,16,1770,20,1776,6,1790,2,1800,1],
  [1350,0,1435,0,1438,3,1445,0,1455,1,1458,12,1463,45,1466,56,1470,35,1475,5,1481,5,1488,45,1492,70,1496,50,1500,8,1510,2,1540,3,1560,1,1600,2,1625,3,1634,8,1645,1,1680,0,1722,5,1730,0,1750,3,1762,10,1769,18,1775,5,1785,0,1800,0],
  [1350,0,1465,1,1482,3,1488,30,1491,55,1494,50,1499,10,1506,1,1512,8,1517,45,1521,68,1525,55,1530,15,1540,2,1554,3,1600,0,1635,2,1680,0,1750,0,1762,6,1770,20,1778,5,1790,0,1800,1],
  [1350,0,1450,0,1452,4,1455,0,1500,1,1508,12,1513,62,1516,66,1520,30,1525,18,1535,12,1540,20,1547,60,1552,64,1558,50,1565,30,1572,8,1590,0,1640,2,1700,-2,1745,3,1758,10,1766,15,1778,4,1785,-3,1800,1],
  [1350,0,1503,2,1510,14,1516,25,1520,30,1526,20,1531,28,1537,18,1545,12,1553,40,1556,45,1561,30,1565,62,1568,70,1572,45,1578,10,1585,2,1620,1,1640,-3,1660,2,1700,-1,1760,0,1785,0,1790,6,1800,2],
  [1350,0,1505,1,1510,15,1515,24,1530,20,1535,30,1539,35,1545,15,1552,10,1568,13,1573,60,1578,70,1582,50,1587,15,1595,3,1620,2,1630,6,1650,0,1680,2,1710,-5,1740,1,1770,4,1780,9,1790,0,1800,2],
  [1350,0,1370,3,1400,0,1430,3,1450,3,1480,-3,1505,0,1507,8,1510,2,1514,8,1518,2,1525,-5,1535,2,1545,-3,1552,25,1559,68,1562,70,1566,38,1572,0,1578,3,1581,12,1584,2,1592,6,1600,20,1605,68,1610,62,1613,50,1617,0,1625,3,1632,8,1645,3,1655,8,1665,5,1677,12,1688,0,1695,-6,1703,-8,1715,0,1720,10,1730,-3,1737,8,1742,-3,1748,6,1755,0,1760,8,1770,-3,1780,12,1790,-2,1800,2],
  [1350,0,1360,0,1400,1,1500,0,1555,0,1557,3,1570,0,1573,20,1578,45,1582,44,1588,15,1596,8,1605,-10,1612,-2,1620,-10,1627,40,1633,68,1637,66,1640,35,1645,35,1650,5,1663,-8,1675,0,1683,6,1690,0,1700,2,1720,1,1735,-6,1745,0,1755,2,1765,0,1778,5,1785,-4,1800,3],
  [1350,0,1370,3,1380,2,1400,0,1500,0,1555,0,1556,8,1562,-2,1566,-12,1572,4,1578,5,1590,-6,1598,2,1603,35,1607,68,1610,62,1615,20,1620,0,1625,2,1650,0,1670,2,1800,1],
  [1350,0,1800,0], [1350,0,1800,0], [1350,0,1800,0], [1350,0,1800,0],
];
const traceColors = ["#222222","#222222","#1c871c","#1c871c","#ee6640","#ee6640","#ee6640","#ff22ff","#2222e6","#2222e6","#2222e6","#2222e6","#2222e6","#2222e6"];
const traceStep = 87.3;

const seriesNames = ["Ne Compression", "Silicone Oil Compression", "Neon Decompression", "Silicone Oil Decompression"];
const RED = "#e61c1f";
const bandEdges = [6, 27.8, 33.5, 37.4];
const bandColors = ["#d9ebd9", "#fae5dd", "#fdd1fd", "#d7d7fd"];
const SANS = "'Liberation Sans', Arial, sans-serif";
const SERIF = "'Liberation Serif', 'Times New Roman', serif";

type Label = { x: number; y: number; text: string; sub?: string; font?: string; subFont?: string; color?: string; bg?: boolean; base?: CanvasTextBaseline };
const nuF = `24px ${SERIF}`, nuS = `15px ${SERIF}`, nuf = `19.5px ${SERIF}`, nus = `13px ${SERIF}`;
const letter = `bold 32px ${SANS}`;
const lab16 = `16px ${SANS}`;
const pressureNames = ["1 atm","5.2 GPa","15.8 GPa","22.5 GPa","28.9 GPa","30.4 GPa","32.6 GPa","39.3 GPa","45.3 GPa","55.1 GPa","65.7 GPa","72.2 GPa","88.0 GPa","94.1 GPa"];
const pressureX = [1248.8,1247.6,1248.8,1247.6,1247.6,1070.7,1070.7,1073,1073,1073,1073,1070.7,1070.7,1070.7];
const pressureRise = [8,7,2,5,3,0,0,0,9,0,5,0,0,0];

const labelsA: Label[] = [
  { x: 8.27, y: 588, text: "Lattice", font: `21px ${SANS}` }, { x: 8.27, y: 560, text: "modes", font: `21px ${SANS}` },
  { x: 93, y: 63, text: "a", font: letter, color: "#05052e", base: "alphabetic" },
];
const labelsB: Label[] = [
  { x: 9, y: 1714, text: "2ν", sub: "2", font: nuF, subFont: nuS }, { x: 9, y: 1530, text: "ν", sub: "3", font: nuF, subFont: nuS }, { x: 9, y: 1197, text: "ν", sub: "1", font: nuF, subFont: nuS },
  { x: 9, y: 952, text: "ν", sub: "2", font: nuF, subFont: nuS }, { x: 9, y: 780, text: "ν", sub: "4", font: nuF, subFont: nuS },
  { x: 93.2, y: 676, text: "b", font: letter, base: "alphabetic" },
];
const labelsC: Label[] = [
  { x: 311, y: 37, text: "Lattice modes", font: `21px ${SANS}` }, { x: 39.6, y: 1189, text: "c", font: letter, base: "alphabetic" },
];
const labelsD: Label[] = [
  { x: 707, y: 40, text: "ν", sub: "4", font: nuf, subFont: nus }, { x: 881, y: 35, text: "ν", sub: "2", font: nuf, subFont: nus }, { x: 682, y: 1198, text: "d", font: letter, base: "alphabetic" },
];
const labelsE: Label[] = [
  { x: 1101, y: 30, text: "ν", sub: "1", font: nuf, subFont: nus }, { x: 1071, y: 1198, text: "e", font: letter, base: "alphabetic" },
  ...pressureNames.map((text, i) => ({ x: pressureX[i], y: i * traceStep + pressureRise[i], text, font: lab16, color: traceColors[i], bg: true })),
];
const labelsF: Label[] = [
  { x: 1418, y: 30, text: "ν", sub: "3", font: nuf, subFont: nus }, { x: 1751, y: 43, text: "2ν", sub: "2", font: nuf, subFont: nus }, { x: 1365, y: 1198, text: "f", font: letter, base: "alphabetic" },
];

const toPoints = (cols: number[][]) => cols.flatMap(([p, ...fs]) => fs.map((f) => ({ x: p, y: f })));
const toTrace = (flat: number[], i: number) => {
  const out: { x: number; y: number }[] = [];
  for (let k = 0; k < flat.length; k += 2) out.push({ x: flat[k], y: flat[k + 1] + i * traceStep });
  return out;
};

type Spec = {
  rect: { left: number; top: number; right: number; bottom: number };
  x: [number, number, number, number]; // min, max, minor, major
  y: [number, number, number, number] | [number, number];
  scatter?: number[][][];
  traces?: number[][];
  xTitle: string;
  xTitleY: number;
  yTitle?: string;
  yTitleX?: number;
  labels: Label[];
  leftMajor?: boolean;
  legend?: boolean;
};

const TOP = 21, MID = 536, LOW_TOP = 604, LOW_BOTTOM = 1062;
const FREQ = "Frequency (cm⁻¹)";
const panels: Spec[] = [
  { rect: { left: 87, top: TOP, right: 643, bottom: MID }, x: [0, 100, 5, 10], y: [50, 650, 25, 50], scatter: [[...neCompA, ...neCompAExtra], [...siliconeCompA, ...siliconeCompAExtra], neDecompA, siliconeDecompA], xTitle: "Pressure (GPa)", xTitleY: 585, yTitle: "Frequency (cm⁻¹)", yTitleX: 25, labels: labelsA },
  { rect: { left: 724.7, top: TOP, right: 1281, bottom: MID }, x: [0, 100, 5, 10], y: [650, 1850, 50, 100], scatter: [[...neCompB, ...neCompBExtra], [...siliconeCompB, ...siliconeCompBExtra], neDecompB, siliconeDecompB], xTitle: "Pressure (GPa)", xTitleY: 585, labels: labelsB, leftMajor: true, legend: true },
  { rect: { left: 35, top: LOW_TOP, right: 331.7, bottom: LOW_BOTTOM }, x: [20, 600, 20, 100], y: [-53, 1308], traces: spectraC, xTitle: FREQ, xTitleY: 1112, yTitle: "Intensity", yTitleX: 18, labels: labelsC },
  { rect: { left: 352.3, top: LOW_TOP, right: 648.7, bottom: LOW_BOTTOM }, x: [670, 950, 10, 50], y: [-53, 1308], traces: spectraD, xTitle: FREQ, xTitleY: 1112, labels: labelsD },
  { rect: { left: 669.3, top: LOW_TOP, right: 965.7, bottom: LOW_BOTTOM }, x: [1060, 1325, 10, 50], y: [-53, 1308], traces: spectraE, xTitle: FREQ, xTitleY: 1112, labels: labelsE },
  { rect: { left: 986.3, top: LOW_TOP, right: 1283, bottom: LOW_BOTTOM }, x: [1350, 1800, 20, 100], y: [-53, 1308], traces: spectraF, xTitle: FREQ, xTitleY: 1112, labels: labelsF },
];

const AXIS = "#333333";
const W = 1307, H = 1123;

function buildDatasets(s: Spec): any[] {
  if (s.scatter) {
    return s.scatter.map((cols, i) => {
      const open = i >= 2;
      const color = i % 2 === 0 ? RED : "#000000";
      return {
        label: seriesNames[i], data: toPoints(cols), showLine: false, order: i + 1,
        pointRadius: open ? 4.4 : 4.9, pointHoverRadius: 0,
        pointBackgroundColor: open ? "rgba(0,0,0,0)" : color,
        pointBorderColor: color, pointBorderWidth: open ? 1.2 : 0,
      };
    });
  }
  return (s.traces || []).map((flat, i) => ({
    label: pressureNames[i], data: toTrace(flat, i), borderColor: traceColors[i], borderWidth: 1.5,
    pointRadius: 0, cubicInterpolationMode: "monotone", fill: false, clip: false,
  }));
}

function panelPlugin(s: Spec) {
  return {
    id: "panelDecor",
    beforeDatasetsDraw(chart: any) {
      if (!s.scatter) return;
      const { ctx, chartArea: a, scales } = chart;
      ctx.save();
      const px = bandEdges.map((v) => scales.x.getPixelForValue(v));
      px.forEach((l, i) => {
        const r = i + 1 < px.length ? px[i + 1] : a.right;
        ctx.fillStyle = bandColors[i];
        ctx.fillRect(l, a.top, r - l, a.bottom - a.top);
      });
      ctx.strokeStyle = "#2b2b2b"; ctx.lineWidth = 1.2;
      px.forEach((l) => { ctx.beginPath(); ctx.moveTo(l, a.top); ctx.lineTo(l, a.bottom); ctx.stroke(); });
      ctx.restore();
    },
    afterDatasetsDraw(chart: any) {
      const { ctx, chartArea: a, scales } = chart;
      ctx.save();
      ctx.strokeStyle = AXIS; ctx.lineWidth = 1;
      const majorX = s.x[3];
      ctx.beginPath();
      scales.x.ticks.forEach((t: any) => {
        const p = scales.x.getPixelForValue(t.value);
        const len = t.value % majorX === 0 ? 10.5 : 5;
        ctx.moveTo(p, a.top); ctx.lineTo(p, a.top + len);
        ctx.moveTo(p, a.bottom); ctx.lineTo(p, a.bottom - len);
      });
      if (s.y.length === 4) {
        const majorY = s.y[3] as number;
        scales.y.ticks.forEach((t: any) => {
          const p = scales.y.getPixelForValue(t.value);
          const major = t.value % majorY === 0;
          const len = major ? 10.5 : 5;
          ctx.moveTo(a.right, p); ctx.lineTo(a.right - len, p);
          if (!major || s.leftMajor) { ctx.moveTo(a.left, p); ctx.lineTo(a.left + len, p); }
        });
      }
      ctx.stroke();

      s.labels.forEach((l) => {
        const x = scales.x.getPixelForValue(l.x), y = scales.y.getPixelForValue(l.y);
        ctx.font = l.font || `21px ${SANS}`;
        ctx.textAlign = "left";
        ctx.textBaseline = l.base || "middle";
        const w = ctx.measureText(l.text).width;
        if (l.bg) { ctx.fillStyle = "#ffffff"; ctx.fillRect(x - 4, y - 7, w + 7, 15); }
        ctx.fillStyle = l.color || "#1a1a1a";
        ctx.fillText(l.text, x, y);
        if (l.sub) {
          ctx.font = l.subFont || ctx.font;
          ctx.textBaseline = "alphabetic";
          ctx.fillText(l.sub, x + w, y + (l.font === nuF ? 11 : 9));
        }
      });

      ctx.strokeStyle = AXIS; ctx.lineWidth = 1.5;
      ctx.strokeRect(a.left, a.top, a.right - a.left, a.bottom - a.top);

      if (s.legend) {
        const bx = 1009.3, by = 8.3, bw = 280.7, bh = 90;
        ctx.fillStyle = "#ffffff"; ctx.fillRect(bx, by, bw, bh);
        ctx.strokeStyle = "#222222"; ctx.lineWidth = 1.2; ctx.strokeRect(bx, by, bw, bh);
        const rows = [27, 44.8, 62.6, 80.6];
        seriesNames.forEach((name, i) => {
          const open = i >= 2;
          const color = i % 2 === 0 ? RED : "#000000";
          ctx.beginPath(); ctx.arc(1042.7, rows[i], open ? 4.2 : 4.7, 0, Math.PI * 2);
          if (open) { ctx.strokeStyle = color; ctx.lineWidth = 1.1; ctx.stroke(); } else { ctx.fillStyle = color; ctx.fill(); }
          ctx.fillStyle = "#1a1a1a"; ctx.font = `16px ${SANS}`; ctx.textAlign = "left"; ctx.textBaseline = "middle";
          ctx.fillText(name, 1076, rows[i]);
        });
      }
      ctx.restore();
    },
  };
}

function Panel({ spec }: { spec: Spec }) {
  const ref = useRef<HTMLCanvasElement>(null);
  useEffect(() => {
    if (!ref.current) return;
    const s = spec, r = s.rect;
    const tickColor = "#1f1f1f";
    const chart = new Chart(ref.current, {
      type: s.scatter ? "scatter" : "line",
      data: { datasets: buildDatasets(s) },
      plugins: [panelPlugin(s)],
      options: {
        responsive: false, animation: false, maintainAspectRatio: false,
        layout: { padding: { left: 0, top: r.top, right: W - r.right, bottom: 0 } },
        plugins: { legend: { display: false }, tooltip: { enabled: false } },
        scales: {
          x: {
            type: "linear", min: s.x[0], max: s.x[1],
            grid: { display: false, drawTicks: false }, border: { display: false },
            ticks: {
              stepSize: s.x[2], autoSkip: false, maxRotation: 0, minRotation: 0, padding: 7, includeBounds: false, color: tickColor,
              font: { family: SANS, size: 21 }, callback: (v: any) => (Number(v) % s.x[3] === 0 ? String(v) : ""),
            },
            title: { display: true, text: s.xTitle, color: tickColor, font: { family: SANS, size: 21, lineHeight: 1.2 }, padding: { top: 0, bottom: H - s.xTitleY - 12.6 } },
            afterFit: (sc: any) => { sc.height = H - r.bottom; },
          },
          y: {
            type: "linear", min: s.y[0], max: s.y[1],
            grid: { display: false, drawTicks: false }, border: { display: false },
            ticks: s.y.length === 4 ? {
              stepSize: s.y[2], autoSkip: false, padding: 6, includeBounds: false, color: tickColor,
              font: { family: SANS, size: 21 }, callback: (v: any) => (Number(v) % (s.y[3] as number) === 0 ? String(v) : ""),
            } : { display: false },
            title: s.yTitle ? { display: true, text: s.yTitle, color: tickColor, font: { family: SANS, size: 21, lineHeight: 1.2 }, padding: { top: (s.yTitleX || 0) - 12.6, bottom: 0 } } : { display: false },
            afterFit: (sc: any) => { sc.width = r.left; },
          },
        },
      } as any,
    } as any);
    return () => chart.destroy();
  }, [spec]);
  return <canvas ref={ref} width={W} height={H} style={{ position: "absolute", left: 0, top: 0, width: W, height: H, pointerEvents: "none" }} />;
}

export default function App() {
  return (
    <div style={{ position: "absolute", left: 0, top: 0, width: W, height: H, overflow: "hidden", background: "#ffffff" }}>
      {panels.map((p, i) => <Panel key={i} spec={p} />)}
    </div>
  );
}
